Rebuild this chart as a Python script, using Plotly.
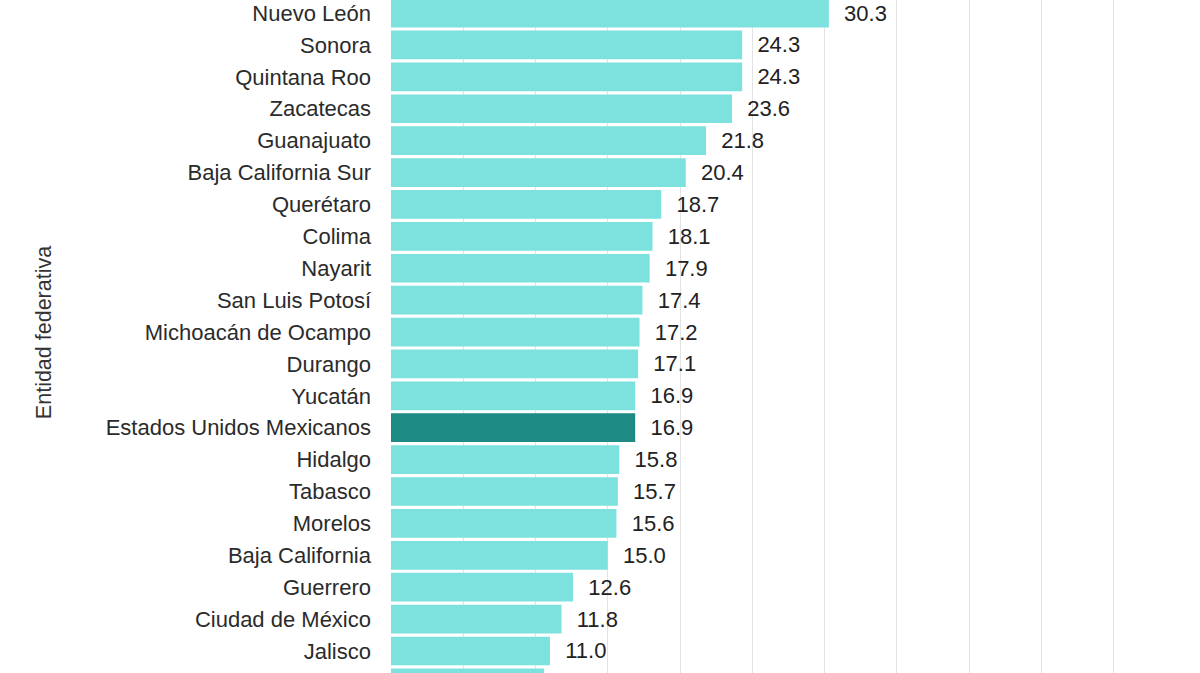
import plotly.graph_objects as go

# entidades ordenadas de mayor a menor (la ultima barra queda cortada abajo)
entidades = ["Nuevo León", "Sonora", "Quintana Roo", "Zacatecas", "Guanajuato",
             "Baja California Sur", "Querétaro", "Colima", "Nayarit", "San Luis Potosí",
             "Michoacán de Ocampo", "Durango", "Yucatán", "Estados Unidos Mexicanos",
             "Hidalgo", "Tabasco", "Morelos", "Baja California", "Guerrero",
             "Ciudad de México", "Jalisco", ""]
valores = [30.3, 24.3, 24.3, 23.6, 21.8, 20.4, 18.7, 18.1, 17.9, 17.4, 17.2, 17.1,
           16.9, 16.9, 15.8, 15.7, 15.6, 15.0, 12.6, 11.8, 11.0, 10.6]
nacional = "Estados Unidos Mexicanos"

claro = "#7de2de"
oscuro = "#1e8a84"
colores = [oscuro if e == nacional else claro for e in entidades]
posiciones = list(range(len(entidades)))

fig = go.Figure()
fig.add_trace(go.Bar(
    x=valores, y=posiciones, orientation="h",
    marker=dict(color=colores, line=dict(width=0)),
    texttemplate="  %{x:.1f}", textposition="outside", constraintext="none",
    textfont=dict(size=22, color="#222222", family="Liberation Sans, Arial"),
    cliponaxis=False, hoverinfo="skip",
))

fig.update_layout(
    width=1200, height=673,
    margin=dict(l=391, r=20, t=0, b=0),
    plot_bgcolor="white", paper_bgcolor="white",
    bargap=0.1, showlegend=False,
    font=dict(family="Liberation Sans, Arial", size=22, color="#333333"),
)
fig.update_xaxes(range=[0, 54.6], dtick=5, showgrid=True, gridcolor="#e3e3e3",
                 gridwidth=1, zeroline=False, showticklabels=False, ticks="")
fig.update_yaxes(range=[20.69, -0.41], tickvals=posiciones, ticktext=entidades,
                 showgrid=False, zeroline=False, ticks="", ticklabelstandoff=19,
                 ticklabeloverflow="allow",
                 tickfont=dict(size=22, color="#2b2b2b"))

fig.add_annotation(text="Entidad federativa", textangle=-90, showarrow=False,
                   xref="paper", yref="paper", x=(44 - 391) / 789, y=0.505,
                   xanchor="center", yanchor="middle",
                   font=dict(size=21.5, color="#333333"))

# sin margen de pagina para que la grafica empiece en la esquina
fig.write_html("out.html", config={"displayModeBar": False},
               post_script="document.body.style.margin='0';")
